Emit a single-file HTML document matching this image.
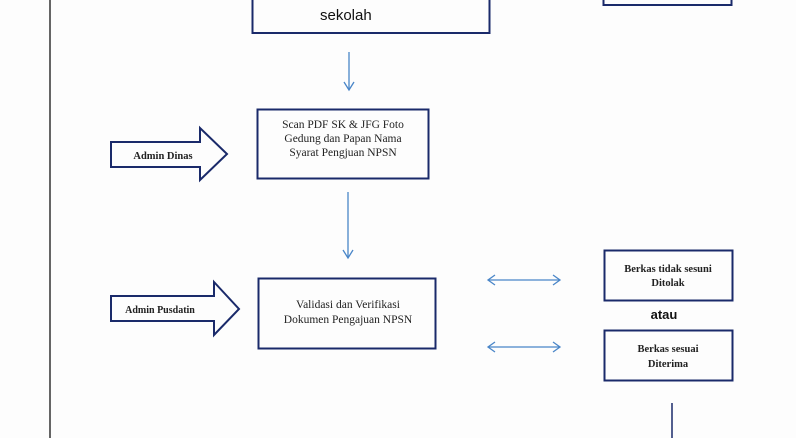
<!DOCTYPE html>
<html><head><meta charset="utf-8"><style>
html,body{margin:0;padding:0;background:#fdfdfd;width:796px;height:438px;overflow:hidden}
</style></head><body>
<svg width="796" height="438" xmlns="http://www.w3.org/2000/svg">
<rect width="796" height="438" fill="#fdfdfd"/>
<line x1="50" y1="0" x2="50" y2="438" stroke="#333" stroke-width="1.5"/>
<rect x="252.5" y="-5" width="237" height="38" fill="none" stroke="#1a2a6a" stroke-width="2"/>
<text x="320" y="20" font-family="Liberation Sans, DejaVu Sans, sans-serif" font-size="15" fill="#111">sekolah</text>
<rect x="603.5" y="-5" width="128" height="10" fill="none" stroke="#1a2a6a" stroke-width="2"/>
<g stroke="#4a86c8" stroke-width="1.3" fill="none">
<line x1="349" y1="52" x2="349" y2="90"/><polyline points="344,82 349,90 354,82"/>
<line x1="348" y1="192" x2="348" y2="258"/><polyline points="343,250 348,258 353,250"/>
<line x1="488" y1="280" x2="560" y2="280"/><polyline points="495,275 488,280 495,285"/><polyline points="553,275 560,280 553,285"/>
<line x1="488" y1="347" x2="560" y2="347"/><polyline points="495,342 488,347 495,352"/><polyline points="553,342 560,347 553,352"/>
</g>
<rect x="257.5" y="109.5" width="171" height="69" fill="none" stroke="#1a2a6a" stroke-width="2"/>
<g font-family="Liberation Serif, serif" font-size="11.5" fill="#222" text-anchor="middle">
<text x="343" y="128">Scan PDF  SK &amp; JFG Foto</text>
<text x="343" y="142">Gedung dan Papan Nama</text>
<text x="343" y="156">Syarat Pengjuan NPSN</text>
</g>
<polygon points="111,142 200,142 200,128 227,154 200,180 200,167 111,167" fill="none" stroke="#1a2a6a" stroke-width="2"/>
<text x="163" y="159" font-family="Liberation Serif, serif" font-size="10.5" font-weight="bold" fill="#222" text-anchor="middle">Admin Dinas</text>
<rect x="258.5" y="278.5" width="177" height="70" fill="none" stroke="#1a2a6a" stroke-width="2"/>
<g font-family="Liberation Serif, serif" font-size="11.5" fill="#222" text-anchor="middle">
<text x="348" y="308">Validasi dan Verifikasi</text>
<text x="348" y="323">Dokumen Pengajuan NPSN</text>
</g>
<polygon points="111,296 214,296 214,282 239,309 214,335 214,321 111,321" fill="none" stroke="#1a2a6a" stroke-width="2"/>
<text x="160" y="313" font-family="Liberation Serif, serif" font-size="10" font-weight="bold" fill="#222" text-anchor="middle">Admin Pusdatin</text>
<rect x="604.5" y="250.5" width="128" height="50" fill="none" stroke="#1a2a6a" stroke-width="2"/>
<g font-family="Liberation Serif, serif" font-size="10.5" font-weight="bold" fill="#222" text-anchor="middle">
<text x="668" y="272">Berkas tidak sesuni</text>
<text x="668" y="286">Ditolak</text>
<text x="668" y="352">Berkas sesuai</text>
<text x="668" y="367">Diterima</text>
</g>
<text x="664" y="319" font-family="Liberation Sans, sans-serif" font-size="13" font-weight="bold" fill="#111" text-anchor="middle">atau</text>
<rect x="604.5" y="330.5" width="128" height="50" fill="none" stroke="#1a2a6a" stroke-width="2"/>
<line x1="672" y1="403" x2="672" y2="438" stroke="#1a2a6a" stroke-width="1.5"/>
</svg>
</body></html>
